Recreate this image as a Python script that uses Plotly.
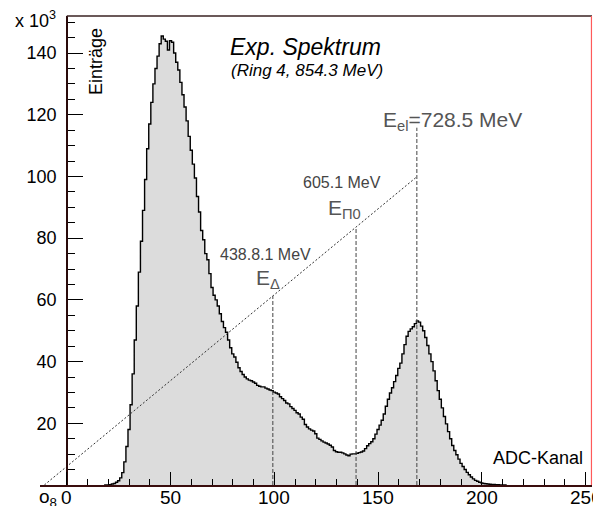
import plotly.graph_objects as go

# ADC spectrum, counts per channel in units of 10^3 (channels 18 .. 212)
first_channel = 18
counts = [
    0, 0, 0.05, 0.1, 0.3, 0.5, 0.9, 1.4, 2.3, 4,            # 18-27
    7.5, 12.5, 18, 26, 36, 47, 58, 69, 79, 89,             # 28-37
    99, 109, 117, 124, 130, 135, 139, 143, 145.5, 144.5,   # 38-47
    143.8, 141, 144, 143.5, 140, 137, 134.5, 130.5, 126.5, 122.5,  # 48-57
    118, 113, 108.5, 104, 99.5, 93.5, 88.5, 82.5, 79.5, 75,        # 58-67
    73, 68.5, 64, 61.5, 60, 58, 55.5, 53, 51, 49.5,        # 68-77
    47, 44.5, 42.5, 41.5, 39.8, 38, 36.8, 35.8, 35, 34.4,  # 78-87
    34, 33.8, 33.4, 33, 32.3, 32, 31.8, 31.8, 31.4, 31.1,  # 88-97
    30.8, 30.6, 30.1, 29.8, 29.5, 28.6, 28, 27.4, 26.6, 26.3,  # 98-107
    25.4, 24.8, 24.2, 23.4, 23, 22, 21.3, 19.6, 18.8, 18.2,    # 108-117
    17.8, 17.5, 16.6, 15.2, 14.8, 14.3, 13.9, 13.6, 13.3, 12.9,  # 118-127
    12.3, 11.2, 10.8, 10.6, 10.6, 10.4, 10.1, 9.7, 9.5, 10,      # 128-137
    10.1, 10.1, 10.3, 10.5, 10.7, 11, 11.8, 12.7, 13.4, 14,      # 138-147
    15, 16.5, 18, 19.4, 21, 23, 25.5, 27.8, 29.8, 31.5,          # 148-157
    33.5, 35.5, 37.8, 39.5, 42.5, 45.5, 48.2, 49.8, 50.6, 51.3,  # 158-167
    52.3, 53.2, 52.8, 51.5, 50, 47.8, 45.2, 42.5, 40, 37,        # 168-177
    33.8, 30.6, 27.8, 25, 22.2, 19.8, 17.3, 15, 12.8, 11.2,      # 178-187
    9.8, 8.4, 7, 6, 5, 4.1, 3.3, 2.6, 2, 1.5,                    # 188-197
    1.2, 0.9, 0.7, 0.5, 0.4, 0.3, 0.25, 0.2, 0.15, 0.1,          # 198-207
    0.07, 0.05, 0, 0, 0,                                          # 208-212
]
channels = [first_channel + i for i in range(len(counts))]

# energy calibration line (channel, height) and marked energies
calib_x = [-10.8, 168.7]
calib_y = [0.0, 99.9]
mark_channels = [99.3, 139.4, 168.7]
mark_energy_text = ["438.8.1 MeV", "605.1 MeV", "728.5 MeV"]
el_line_top = 115.8

x_ticks = [0, 50, 100, 150, 200, 250]
y_ticks = [20, 40, 60, 80, 100, 120, 140]

X_RANGE = [-12.9, 253.1]
Y_RANGE = [0, 152]
W, H = 593, 506
ML, MR, MT, MB = 40, 1, 16, 21
FONT = "Liberation Sans, Arial, sans-serif"


def calib(ch):
    (x0, x1), (y0, y1) = calib_x, calib_y
    return y0 + (y1 - y0) * (ch - x0) / (x1 - x0)


def px(xp):
    return (xp - ML) / (W - ML - MR)


def py(yp):
    return (H - MB - yp) / (H - MT - MB)


fig = go.Figure()

fig.add_trace(go.Scatter(
    x=channels, y=counts, mode="lines",
    line=dict(shape="hvh", color="black", width=1.4),
    fill="tozeroy", fillcolor="#dcdcdc", hoverinfo="skip",
))

fig.add_trace(go.Scatter(
    x=calib_x, y=calib_y, mode="lines",
    line=dict(color="#333333", width=1, dash="2px,2px"), hoverinfo="skip",
))

for i, ch in enumerate(mark_channels):
    top = el_line_top if i == len(mark_channels) - 1 else calib(ch)
    fig.add_trace(go.Scatter(
        x=[ch, ch], y=[0, top], mode="lines",
        line=dict(color="#444444", width=1, dash="4px,2px"), hoverinfo="skip",
    ))

# frame: top edge from the y axis, red right edge
fig.add_shape(type="line", xref="paper", yref="paper",
              x0=px(66.8), x1=1, y0=1, y1=1,
              line=dict(color="#3a2222", width=1.5))
fig.add_shape(type="line", xref="paper", yref="paper",
              x0=0.999, x1=0.999, y0=0, y1=1,
              line=dict(color="#ff5a5a", width=1.2))

ann = []


def text(s, x, y, size, color="black", xanchor="center", yanchor="middle", angle=0):
    ann.append(dict(text=s, x=px(x), y=py(y), xref="paper", yref="paper",
                    showarrow=False, xanchor=xanchor, yanchor=yanchor,
                    textangle=angle, font=dict(family=FONT, size=size, color=color)))


text("x 10<sup>3</sup>", 13, 19, 18, xanchor="left")
text("Einträge", 96, 62, 18, angle=-90)
text("<i>Exp. Spektrum</i>", 305, 47, 23)
text("<i>(Ring 4, 854.3 MeV)</i>", 307, 71, 17)
text("E<sub>el</sub>=" + mark_energy_text[2], 381, 121, 21, color="#555555", xanchor="left")
text(mark_energy_text[1], 342, 182, 16, color="#444444")
text("E<sub>Π0</sub>", 326, 209, 21, color="#555555", xanchor="left")
text(mark_energy_text[0], 265, 254, 16, color="#444444")
text("E<sub>Δ</sub>", 254, 279, 21, color="#555555", xanchor="left")
text("ADC-Kanal", 585, 458, 18, xanchor="right")
text("o<sub>8</sub>", 37, 498, 19, xanchor="left")

# x tick labels placed just below the axis line
for t in x_ticks:
    ann.append(dict(text=str(t), x=t, xref="x", y=py(498), yref="paper",
                    showarrow=False, xanchor="center", yanchor="middle",
                    font=dict(family=FONT, size=19, color="black")))

fig.update_layout(
    width=W, height=H,
    margin=dict(l=ML, r=MR, t=MT, b=MB, autoexpand=False),
    paper_bgcolor="white", plot_bgcolor="white",
    showlegend=False,
    annotations=ann,
    xaxis=dict(
        range=X_RANGE, showgrid=False, zeroline=False, automargin=False,
        showline=True, linecolor="#3a0d0d", linewidth=1.5,
        ticks="inside", tickvals=x_ticks, ticklen=13, tickwidth=1, tickcolor="black",
        minor=dict(tickvals=[v for v in range(10, 251, 10) if v % 50], ticks="inside",
                   ticklen=6, tickwidth=1, tickcolor="black"),
        showticklabels=False,
    ),
    yaxis=dict(
        range=Y_RANGE, showgrid=False, zeroline=False, automargin=False,
        anchor="free", position=px(66.8),
        showline=True, linecolor="#2a0a0a", linewidth=1.5,
        ticks="inside", tickvals=y_ticks, ticklen=15, tickwidth=1, tickcolor="black",
        minor=dict(tickvals=[v for v in range(5, 151, 5) if v % 20], ticks="inside",
                   ticklen=7, tickwidth=1, tickcolor="black"),
        tickfont=dict(family=FONT, size=18, color="black"),
        ticklabelstandoff=6,
    ),
)

fig.write_html("out.html")
